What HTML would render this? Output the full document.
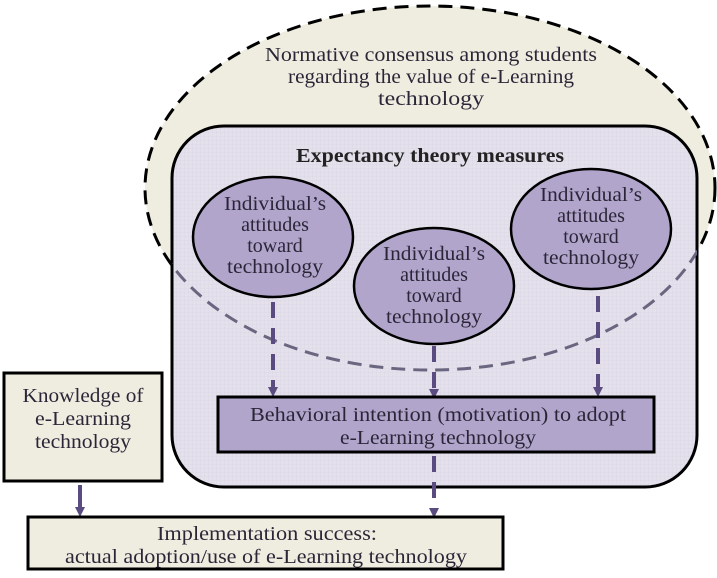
<!DOCTYPE html>
<html><head><meta charset="utf-8"><style>body{margin:0;background:#fff}svg{display:block}text{font-family:"Liberation Serif",serif}</style></head><body>
<svg width="717" height="578" viewBox="0 0 717 578" xmlns="http://www.w3.org/2000/svg">
<defs>
<pattern id="g" width="4" height="4" patternUnits="userSpaceOnUse"><rect width="4" height="4" fill="#e4e0ec"/><path d="M0 0H4M0 0V4" stroke="#d6d1e0" stroke-width="0.6"/></pattern>
<marker id="a" markerWidth="10" markerHeight="10" refX="5" refY="5" orient="auto" markerUnits="userSpaceOnUse"><path d="M0 0L10 5L0 10Z" fill="#5a4c80"/></marker>
<clipPath id="in"><rect x="172" y="126" width="525" height="361" rx="52"/></clipPath>
<mask id="out"><rect width="717" height="578" fill="#fff"/><rect x="173" y="127" width="523" height="359" rx="51" fill="#000"/></mask>
</defs>
<ellipse cx="430" cy="188" rx="285" ry="182" fill="#efede0"/>
<rect x="172" y="126" width="525" height="361" rx="52" fill="url(#g)" stroke="#000" stroke-width="3"/>
<ellipse cx="430" cy="188" rx="285" ry="182" fill="none" stroke="#000" stroke-width="3" stroke-dasharray="14 8" mask="url(#out)"/>
<ellipse cx="430" cy="188" rx="285" ry="182" fill="none" stroke="#6b6680" stroke-width="3" stroke-dasharray="14 8" clip-path="url(#in)"/>
<g font-size="20" fill="#2a2638" text-anchor="middle" lengthAdjust="spacingAndGlyphs">
<text x="431" y="61" textLength="332" lengthAdjust="spacingAndGlyphs">Normative consensus among students</text>
<text x="431" y="83" textLength="286" lengthAdjust="spacingAndGlyphs">regarding the value of e-Learning</text>
<text x="431" y="105" textLength="106" lengthAdjust="spacingAndGlyphs">technology</text>
<text x="430" y="162" font-weight="bold" fill="#222" textLength="268" lengthAdjust="spacingAndGlyphs">Expectancy theory measures</text>
</g>
<g fill="#b1a5cb" stroke="#000" stroke-width="2.5">
<ellipse cx="273" cy="237" rx="80" ry="60"/>
<ellipse cx="434" cy="286" rx="80" ry="58"/>
<ellipse cx="591" cy="229" rx="80" ry="60"/>
</g>
<g font-size="20" fill="#2a2638" text-anchor="middle">
<text x="275" y="210" textLength="102" lengthAdjust="spacingAndGlyphs">Individual’s</text><text x="275" y="231">attitudes</text><text x="275" y="252">toward</text><text x="275" y="273" textLength="96" lengthAdjust="spacingAndGlyphs">technology</text>
<text x="434" y="260" textLength="102" lengthAdjust="spacingAndGlyphs">Individual’s</text><text x="434" y="281">attitudes</text><text x="434" y="302">toward</text><text x="434" y="323" textLength="96" lengthAdjust="spacingAndGlyphs">technology</text>
<text x="591" y="201" textLength="102" lengthAdjust="spacingAndGlyphs">Individual’s</text><text x="591" y="222">attitudes</text><text x="591" y="243">toward</text><text x="591" y="264" textLength="96" lengthAdjust="spacingAndGlyphs">technology</text>
</g>
<g stroke="#5a4c80" stroke-width="4" stroke-dasharray="16 10" marker-end="url(#a)">
<line x1="273" y1="302" x2="273" y2="392"/>
<line x1="434" y1="346" x2="434" y2="394"/>
<line x1="598" y1="296" x2="598" y2="392"/>
<line x1="434" y1="456" x2="434" y2="513"/>
</g>
<line x1="80" y1="485" x2="80" y2="512" stroke="#5a4c80" stroke-width="4" marker-end="url(#a)"/>
<rect x="218" y="397" width="436" height="55" fill="#b1a5cb" stroke="#000" stroke-width="3"/>
<g font-size="20" fill="#2a2638" text-anchor="middle">
<text x="438" y="421" textLength="376" lengthAdjust="spacingAndGlyphs">Behavioral intention (motivation) to adopt</text>
<text x="438" y="444" textLength="196" lengthAdjust="spacingAndGlyphs">e-Learning technology</text>
</g>
<rect x="4" y="373" width="158" height="108" fill="#efede0" stroke="#000" stroke-width="3"/>
<g font-size="20" fill="#2a2638" text-anchor="middle">
<text x="83" y="402" textLength="121" lengthAdjust="spacingAndGlyphs">Knowledge of</text>
<text x="83" y="425" textLength="96" lengthAdjust="spacingAndGlyphs">e-Learning</text>
<text x="83" y="448" textLength="96" lengthAdjust="spacingAndGlyphs">technology</text>
</g>
<rect x="28" y="517" width="475" height="52" fill="#efede0" stroke="#000" stroke-width="3"/>
<g font-size="20" fill="#2a2638" text-anchor="middle">
<text x="267" y="540" textLength="220" lengthAdjust="spacingAndGlyphs">Implementation success:</text>
<text x="266" y="563" textLength="402" lengthAdjust="spacingAndGlyphs">actual adoption/use of e-Learning technology</text>
</g>
</svg>
</body></html>
